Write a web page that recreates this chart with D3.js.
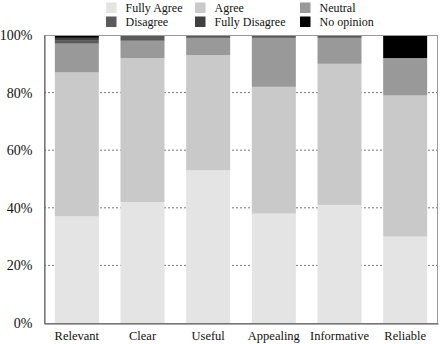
<!DOCTYPE html>
<html>
<head>
<meta charset="utf-8">
<script src="https://cdn.jsdelivr.net/npm/d3@7"></script>
<style>
  body { margin: 0; background: #fff; }
  svg { display: block; }
</style>
</head>
<body>
<svg id="chart" width="440" height="344"></svg>
<script>
// Survey answers per criterion, percent of respondents
const categories = ["Relevant", "Clear", "Useful", "Appealing", "Informative", "Reliable"];
const answers = ["Fully Agree", "Agree", "Neutral", "Disagree", "Fully Disagree", "No opinion"];
const fullyAgree    = [37, 42, 53, 38, 41, 30];
const agree         = [50, 50, 40, 44, 49, 49];
const neutral       = [10,  6,  6, 17,  9, 13];
const disagree      = [ 1,  2,  1,  1,  1,  0];
const fullyDisagree = [ 1,  0,  0,  0,  0,  0];
const noOpinion     = [ 1,  0,  0,  0,  0,  8];
const yTicks = [0, 20, 40, 60, 80, 100];
const colors = ["#e4e4e4", "#c9c9c9", "#999999", "#5a5a5a", "#404040", "#000000"];

const FONT = "'Liberation Serif', 'Times New Roman', Tinos, 'DejaVu Serif', serif";

const seriesValues = [fullyAgree, agree, neutral, disagree, fullyDisagree, noOpinion];
const rows = categories.map((c, i) => {
  const r = { category: c };
  answers.forEach((a, k) => { r[a] = seriesValues[k][i]; });
  return r;
});

const svg = d3.select("#chart");
const margin = { left: 44, right: 2, top: 35, bottom: 21 };
const W = 440, H = 344;

const x = d3.scaleBand()
  .domain(categories)
  .range([margin.left, W - margin.right])
  .paddingInner(0.33)
  .paddingOuter(0.165);
const y = d3.scaleLinear().domain([0, 100]).range([H - margin.bottom, margin.top]);
const color = d3.scaleOrdinal().domain(answers).range(colors);

// dotted grid lines
svg.append("g")
  .selectAll("line")
  .data(yTicks.filter(t => t > 0 && t < 100))
  .join("line")
  .attr("x1", margin.left).attr("x2", W - margin.right)
  .attr("y1", d => y(d)).attr("y2", d => y(d))
  .attr("stroke", "#777").attr("stroke-width", 1)
  .attr("stroke-dasharray", "2,2");

// stacked bars
const stacked = d3.stack().keys(answers)(rows);
svg.append("g")
  .selectAll("g")
  .data(stacked)
  .join("g")
  .attr("fill", d => color(d.key))
  .selectAll("rect")
  .data(d => d)
  .join("rect")
  .attr("x", d => x(d.data.category))
  .attr("width", x.bandwidth())
  .attr("y", d => y(d[1]))
  .attr("height", d => y(d[0]) - y(d[1]));

// frame
svg.append("rect")
  .attr("x", margin.left + 0.5).attr("y", margin.top + 0.5)
  .attr("width", W - margin.right - margin.left - 1)
  .attr("height", H - margin.bottom - margin.top)
  .attr("fill", "none").attr("stroke", "#999").attr("stroke-width", 1);

// left axis
const yAxis = svg.append("g")
  .attr("transform", `translate(${margin.left + 0.5},0)`)
  .call(d3.axisLeft(y).tickValues(yTicks).tickFormat(d => d + "%").tickSize(0).tickPadding(12));
yAxis.select(".domain").attr("stroke", "#555");
yAxis.selectAll("text")
  .attr("font-family", FONT).attr("font-size", 14).attr("fill", "#111");

// bottom axis
const xAxis = svg.append("g")
  .attr("transform", `translate(0,${H - margin.bottom + 0.5})`)
  .call(d3.axisBottom(x).tickSize(0).tickPadding(8));
xAxis.select(".domain").attr("stroke", "#555");
xAxis.selectAll("text")
  .attr("font-family", FONT).attr("font-size", 12.5).attr("fill", "#111");

// legend, three columns by two rows
const legendX = [106, 195, 300];
const legendY = [2.5, 16.5];
const legend = svg.append("g")
  .selectAll("g")
  .data(answers)
  .join("g")
  .attr("transform", (d, i) => `translate(${legendX[i % 3]},${legendY[Math.floor(i / 3)]})`);
legend.append("rect")
  .attr("width", 10.5).attr("height", 10.5)
  .attr("fill", d => color(d));
legend.append("text")
  .attr("x", 19.5).attr("y", 9.5)
  .attr("font-family", FONT).attr("font-size", 12)
  .attr("fill", "#111")
  .text(d => d);
</script>
</body>
</html>
